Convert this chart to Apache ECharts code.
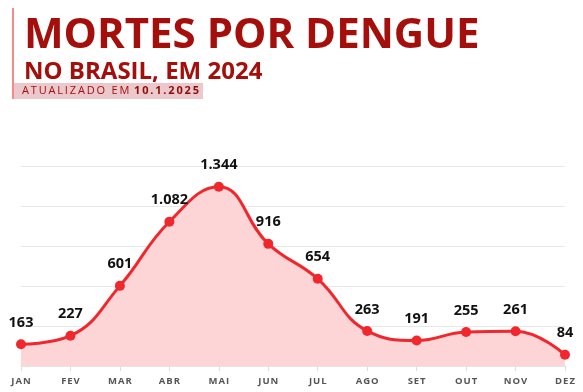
<!DOCTYPE html>
<html><head><meta charset="utf-8">
<script src="https://cdn.jsdelivr.net/npm/echarts@6/dist/echarts.min.js"></script>
<style>html,body{margin:0;padding:0;background:#fff}#c{width:583px;height:392px}</style>
</head><body><div id="c"></div>
<script>
var months = ['JAN','FEV','MAR','ABR','MAI','JUN','JUL','AGO','SET','OUT','NOV','DEZ'];
var deaths = [163,227,601,1082,1344,916,654,263,191,255,261,84];
var deathLabels = ['163','227','601','1.082','1.344','916','654','263','191','255','261','84'];
var yTicks = [0,300,600,900,1200,1500];

var chart = echarts.init(document.getElementById('c'));
var FONT = '"Open Sans", sans-serif';
function spaced(s, sp){ return s.split('').join(sp || '\u200a'); }
chart.setOption({
  animation:false,
  title:[
    {text:'MORTES POR DENGUE', left:19, top:6, textStyle:{fontFamily:FONT,fontSize:42,fontWeight:'bold',color:'#a50f0b',lineHeight:50}},
    {text:'NO BRASIL, EM 2024', left:19, top:53, textStyle:{fontFamily:FONT,fontSize:24,fontWeight:'bold',color:'#a50f0b',lineHeight:29}},
    {text:'{a|'+spaced('ATUALIZADO EM ','\u2009')+'}{b|'+spaced('10.1.2025','\u2009')+'}', left:17, top:79,
      textStyle:{rich:{a:{fontFamily:FONT,fontSize:11,fontWeight:'normal',color:'#a50f0b',lineHeight:14},b:{fontFamily:FONT,fontSize:11,fontWeight:'bold',color:'#8c0c08',lineHeight:14}}}}
  ],
  graphic:[
    {type:'rect', left:12, top:8, shape:{width:2,height:91}, style:{fill:'#f48a8a'}, z:-1},
    {type:'rect', left:14, top:83, shape:{width:189,height:16}, style:{fill:'#eac8cb'}, z:-1}
  ],
  grid:{left:21,right:18,top:166,bottom:26},
  xAxis:{type:'category',data:months,boundaryGap:false,
    axisLine:{lineStyle:{color:'#e4e4e4',width:1}},
    axisTick:{show:true,length:5,lineStyle:{color:'#dddddd'}},
    axisLabel:{fontFamily:FONT,fontSize:9.5,fontWeight:'bold',color:'#555',margin:10,formatter:function(v){return spaced(v);}}
  },
  yAxis:{type:'value',min:yTicks[0],max:yTicks[yTicks.length-1],interval:yTicks[1]-yTicks[0],
    axisLabel:{show:false},axisLine:{show:false},axisTick:{show:false},
    splitLine:{lineStyle:{color:'#e8e8e8',width:1}}},
  series:[{type:'line',data:deaths,smooth:0.45,symbol:'circle',symbolSize:10,
    lineStyle:{color:'#f0282d',width:3},itemStyle:{color:'#f0282d'},
    areaStyle:{color:'#fdd5d6',opacity:1},
    label:{show:true,position:'top',distance:9,fontFamily:FONT,fontSize:14.5,fontWeight:'bold',color:'#111',
      formatter:function(p){return deathLabels[p.dataIndex];}}
  }]
});
</script></body></html>
